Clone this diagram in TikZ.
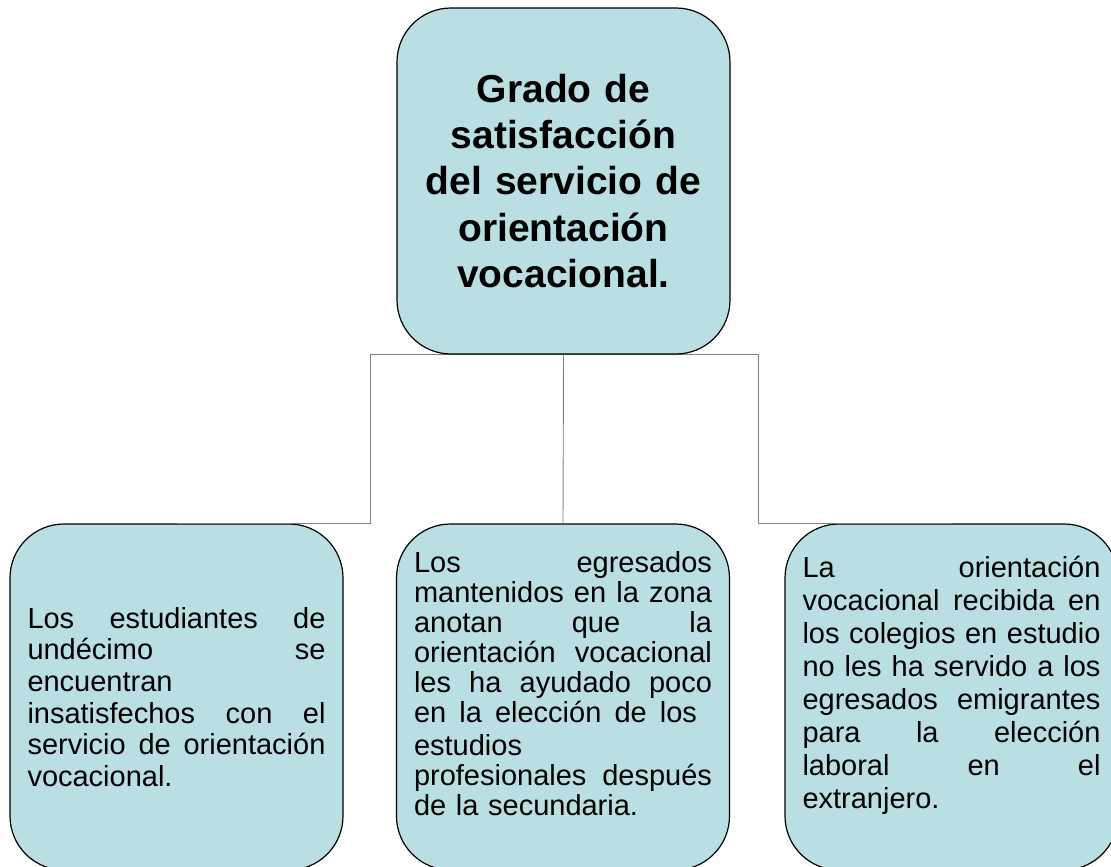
\documentclass[tikz,border=0pt]{standalone}
\usepackage{fontspec}
\setmainfont{Liberation Sans}
\usepackage{tikz}
\definecolor{boxfill}{RGB}{185,223,227}
\definecolor{linegray}{RGB}{128,128,128}
% one fully justified line
\newcommand{\fl}[2][298pt]{\leavevmode\hbox to #1{\spaceskip=.278em plus 1fil\relax#2}}
\begin{document}
\begin{tikzpicture}[x=1pt,y=-1pt,
  box/.style={draw=black,line width=1.2pt,fill=boxfill,rounded corners=54pt,
    minimum width=333pt,minimum height=346pt,inner sep=0pt},
  con/.style={draw=linegray,line width=0.9pt}]
\useasboundingbox (0,0) rectangle (1111,867);
\clip (0,0) rectangle (1111,867);
% joints of the connectors
\coordinate (j1) at (370,354);
\coordinate (j3) at (758,354);
\draw[con] (j1)--(j3);
\node[box,align=center,text width=320pt,
  font=\fontsize{39}{46.3}\selectfont\bfseries] (top) at (563.5,181)
  {Grado de\\satisfacción\\del servicio de\\orientación\\vocacional.};
\node[box,align=left,text width=298pt,
  font=\fontsize{29}{31.7}\selectfont] (b1) at (176.5,697)
  {\fl{Los estudiantes de}\\\fl{undécimo se}\\encuentran\\
   \fl{insatisfechos con el}\\\fl{servicio de orientación}\\vocacional.};
\node[box,align=left,text width=298pt,
  font=\fontsize{29}{30}\selectfont] (b2) at (563,697)
  {\fl{Los egresados}\\\fl{mantenidos en la zona}\\\fl{anotan que la}\\
   \fl{orientación vocacional}\\\fl{les ha ayudado poco}\\
   \fl[283pt]{en la elección de los}\\[3pt]estudios\\\fl{profesionales después}\\
   de la secundaria.\rule[-28pt]{0pt}{28pt}};
\node[box,align=left,text width=298pt,
  font=\fontsize{29}{33}\selectfont] (b3) at (951.5,697)
  {\fl{La orientación}\\\fl{vocacional recibida en}\\\fl{los colegios en estudio}\\
   \fl{no les ha servido a los}\\\fl{egresados emigrantes}\\\fl{para la elección}\\
   \fl{laboral en el}\\extranjero.\rule[-30pt]{0pt}{30pt}};
\draw[con] (b1.north)-|(j1);
\draw[con] (j3)|-(b3.north);
\draw[con] (top.south)--(b2.north);
\end{tikzpicture}
\end{document}
